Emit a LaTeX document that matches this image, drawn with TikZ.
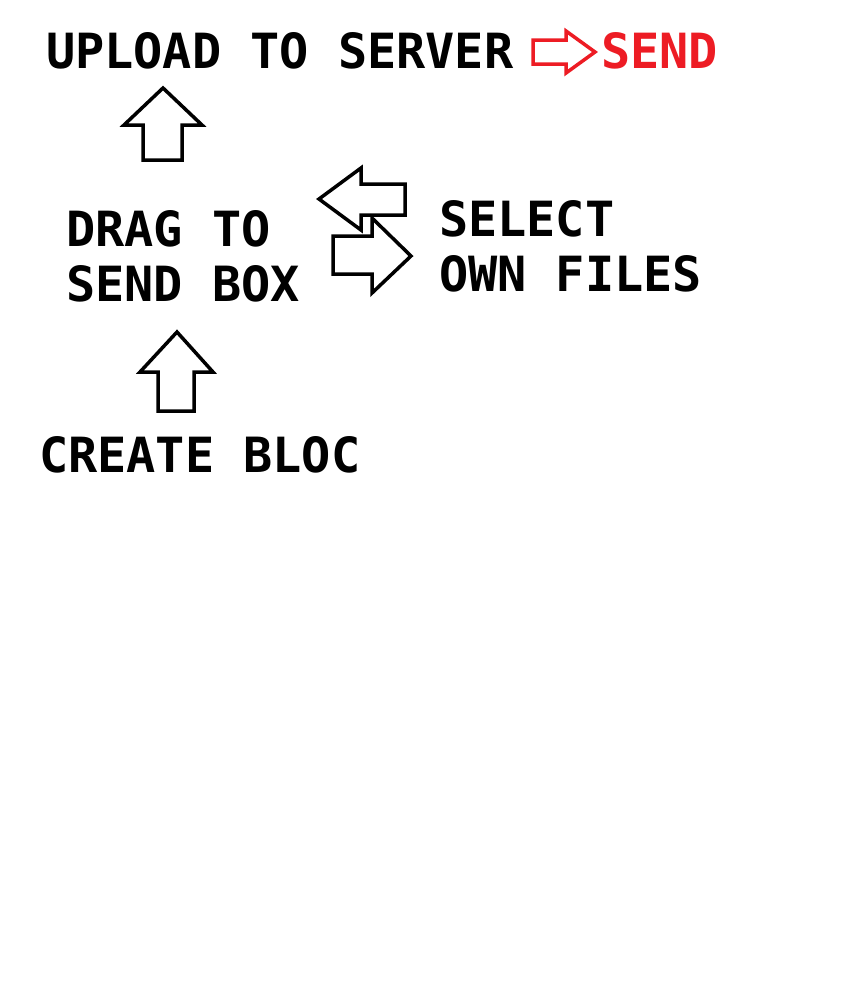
\documentclass[tikz,border=0pt]{standalone}
\usepackage{fontspec}
\setmonofont{DejaVu Sans Mono}
\definecolor{pred}{RGB}{237,28,36}
\begin{document}
\begin{tikzpicture}[x=1pt,y=-1pt,
  lbl/.style={inner sep=0pt,anchor=base west,font=\fontsize{48.5}{58}\selectfont\ttfamily\bfseries},
  arr/.style={draw=black,line width=3.5pt,line join=miter},
  redarr/.style={draw=pred,line width=3.5pt,line join=miter}]
\useasboundingbox (0,0) rectangle (845,1005);
\fill[white] (0,0) rectangle (845,1005);
% labels
\node[lbl] (upload) at (46,68) {UPLOAD TO SERVER};
\node[lbl,text=pred] (send) at (601,68) {SEND};
\node[lbl] (drag) at (66,246) {DRAG TO};
\node[lbl] (sendbox) at (66,301) {SEND BOX};
\node[lbl] (select) at (439,236) {SELECT};
\node[lbl] (own) at (439,291) {OWN FILES};
\node[lbl] (create) at (39,472) {CREATE BLOC};
% red arrow
\draw[redarr] (533,40) -- (566,40) -- (566,31) -- (595,52) -- (566,73) -- (566,64) -- (533,64) -- cycle;
% up arrow to upload
\draw[arr] (163,88) -- (202,125) -- (182,125) -- (182,160) -- (143,160) -- (143,125) -- (124,125) -- cycle;
% left arrow
\draw[arr] (319,199) -- (361,168) -- (361,184) -- (405,184) -- (405,215) -- (361,215) -- (361,230) -- cycle;
% right arrow
\draw[arr] (333,236) -- (372,236) -- (372,218) -- (411,256) -- (372,293) -- (372,274) -- (333,274) -- cycle;
% up arrow to drag
\draw[arr] (177,332) -- (213,372) -- (194,372) -- (194,411) -- (158,411) -- (158,372) -- (140,372) -- cycle;
\end{tikzpicture}
\end{document}
